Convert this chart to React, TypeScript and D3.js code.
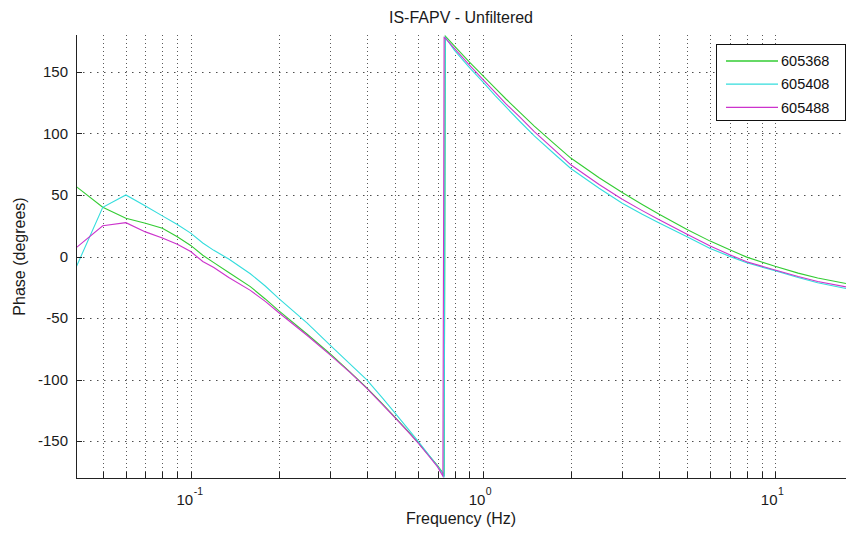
import React from "react";
import * as d3 from "d3";

const title = "IS-FAPV - Unfiltered";
const xLabel = "Frequency (Hz)";
const yLabel = "Phase (degrees)";

const seriesNames = ["605368", "605408", "605488"];
const seriesColors = ["#33cc33", "#33dddd", "#cc33cc"];

const freqs = [
  0.0405, 0.05, 0.06, 0.07, 0.08, 0.09, 0.1, 0.11, 0.12, 0.135, 0.16, 0.18, 0.2, 0.25, 0.3, 0.35, 0.4,
  0.45, 0.5, 0.55, 0.6, 0.65, 0.7, 0.73, 0.737, 0.744, 0.8, 0.9, 1.0, 1.1, 1.2, 1.342, 1.5, 1.75, 2, 2.5,
  3, 3.5, 4, 5, 6, 7, 8, 9, 10, 12, 14, 17.5,
];

const phase605368 = [
  57, 40, 31, 27, 23, 16, 9, 1, -5, -13, -24.5, -34.5, -44, -63, -79, -93.5, -106.5,
  -119, -130.5, -141, -151, -161, -170, -176, -178.5, 179, 171, 158, 147, 137, 128, 117, 106, 92, 80, 64,
  52, 42.5, 34.5, 22, 12.5, 5.5, -0.5, -4.5, -8, -13.5, -17.5, -22,
];

const phase605408 = [
  -9, 40, 50, 41, 33, 26, 19, 11, 5, -2, -14, -24, -34, -54, -72, -87, -100,
  -114, -127, -139, -150, -160.5, -170.5, -176.5, -179.5, 178, 167.5, 153.5, 142, 131, 121.5, 109.5, 98, 83.7, 71.5, 55.5,
  43.3, 34.5, 27.5, 16, 6.5, 0.1, -5, -8.5, -11.5, -17, -21.3, -26,
];

const phase605488 = [
  7, 25, 27.5, 20, 15, 10, 4, -4, -9, -17, -27.5, -36.5, -45.5, -64, -80, -94, -107,
  -119.5, -131, -141.5, -151.5, -161.5, -171, -178.5, 178, 177.5, 169, 155.5, 144, 133.5, 124, 113, 101.5, 87, 74.5, 58.5,
  46.5, 37.5, 30, 18, 8.5, 1.5, -4.2, -7.8, -11, -16.3, -20.3, -24.7,
];

const seriesValues = [phase605368, phase605408, phase605488];

const yTicks = [-150, -100, -50, 0, 50, 100, 150];
const xMajorTicks = [0.1, 1, 10];
const xMajorExponents = ["-1", "0", "1"];
const xDomain = [0.0405, 17.5];
const yDomain = [-180, 180];

const W = 846;
const H = 533;
const left = 76;
const right = 846;
const top = 35;
const bottom = 478;
const FONT = "'Liberation Sans', Arial, Helvetica, sans-serif";

export default function App() {
  const x = d3.scaleLog().domain(xDomain).range([left, right]);
  const y = d3.scaleLinear().domain(yDomain).range([bottom, top]);

  const minorTicks: number[] = [];
  for (let e = -2; e <= 1; e++) {
    for (let m = 1; m <= 9; m++) {
      const v = m * Math.pow(10, e);
      if (v >= xDomain[0] && v <= xDomain[1]) minorTicks.push(v);
    }
  }

  const line = d3
    .line<[number, number]>()
    .x((d) => x(d[0]))
    .y((d) => y(d[1]));

  return (
    <svg
      width={W}
      height={H}
      style={{ position: "absolute", left: 0, top: 0, background: "#fff" }}
      fontFamily={FONT}
    >
      <defs>
        <clipPath id="plotclip">
          <rect x={left} y={top - 2} width={right - left} height={bottom - top + 4} />
        </clipPath>
      </defs>
      <rect x={0} y={0} width={W} height={H} fill="#fff" />

      {/* grid */}
      <g stroke="#222" strokeWidth={1}>
        {minorTicks.map((t, i) => (
          <line
            key={"vg" + i}
            x1={Math.round(x(t)) + 0.5}
            x2={Math.round(x(t)) + 0.5}
            y1={top}
            y2={bottom}
            strokeDasharray="1,3"
            opacity={0.75}
          />
        ))}
        {yTicks.map((t, i) => (
          <line
            key={"hg" + i}
            x1={left}
            x2={right}
            y1={Math.round(y(t)) + 0.5}
            y2={Math.round(y(t)) + 0.5}
            strokeDasharray="1.5,5.5"
            opacity={0.8}
          />
        ))}
      </g>

      {/* series */}
      <g clipPath="url(#plotclip)" fill="none" strokeWidth={1.1}>
        {seriesValues.map((vals, si) => (
          <path
            key={si}
            d={line(freqs.map((f, i) => [f, vals[i]] as [number, number])) || ""}
            stroke={seriesColors[si]}
          />
        ))}
      </g>

      {/* axes */}
      <g stroke="#222" strokeWidth={1}>
        <line x1={left + 0.5} x2={left + 0.5} y1={top} y2={bottom + 0.5} />
        <line x1={left} x2={right} y1={bottom + 0.5} y2={bottom + 0.5} />
        {yTicks.map((t, i) => (
          <line key={"yt" + i} x1={left} x2={left + 6} y1={Math.round(y(t)) + 0.5} y2={Math.round(y(t)) + 0.5} />
        ))}
        {minorTicks.map((t, i) => (
          <line
            key={"xt" + i}
            x1={Math.round(x(t)) + 0.5}
            x2={Math.round(x(t)) + 0.5}
            y1={bottom}
            y2={bottom - 6}
          />
        ))}
      </g>

      {/* y tick labels */}
      <g fontSize={15} fill="#1a1a1a" textAnchor="end">
        {yTicks.map((t, i) => (
          <text key={"yl" + i} x={left - 8} y={y(t)} dy="0.36em">
            {t}
          </text>
        ))}
      </g>

      {/* x tick labels */}
      <g fill="#1a1a1a">
        {xMajorTicks.map((t, i) => (
          <g key={"xl" + i}>
            <text x={x(t) + 2.5} y={505} fontSize={15} textAnchor="end">
              10
            </text>
            <text x={x(t) + 3} y={495} fontSize={10.5} textAnchor="start">
              {xMajorExponents[i]}
            </text>
          </g>
        ))}
      </g>

      {/* labels */}
      <text x={(left + right) / 2} y={23} fontSize={16} textAnchor="middle" fill="#1a1a1a">
        {title}
      </text>
      <text x={(left + right) / 2} y={524} fontSize={16} textAnchor="middle" fill="#1a1a1a">
        {xLabel}
      </text>
      <text
        transform={`translate(25, ${(top + bottom) / 2}) rotate(-90)`}
        fontSize={16}
        textAnchor="middle"
        fill="#1a1a1a"
      >
        {yLabel}
      </text>

      {/* legend */}
      <g>
        <rect x={716.5} y={44.5} width={129} height={76} fill="#fff" stroke="#111" strokeWidth={1} />
        {seriesNames.map((n, i) => (
          <g key={"lg" + i}>
            <line x1={726} x2={778} y1={61 + i * 23.2} y2={61 + i * 23.2} stroke={seriesColors[i]} strokeWidth={1.3} />
            <text x={781} y={61 + i * 23.2} dy="0.36em" fontSize={14.5} fill="#111">
              {n}
            </text>
          </g>
        ))}
      </g>
    </svg>
  );
}
